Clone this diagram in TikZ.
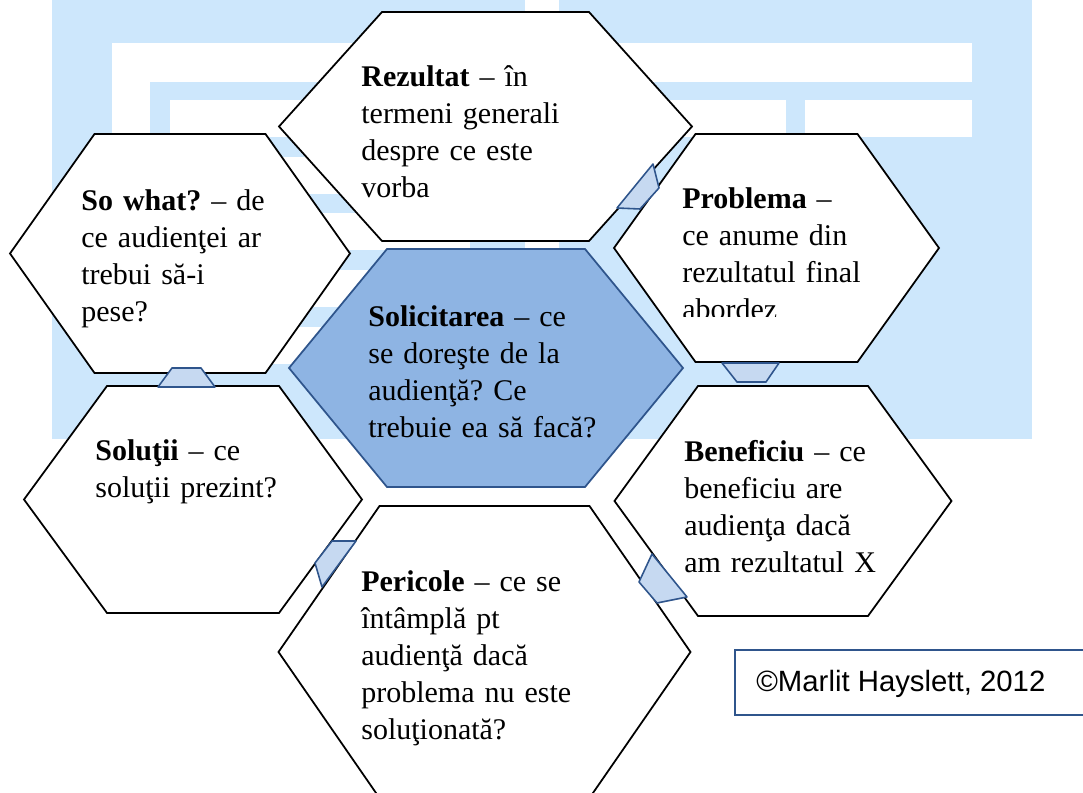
\documentclass[tikz,border=0pt]{standalone}
\usepackage{fontspec}
\setmainfont{Liberation Serif}
\newfontfamily\copyfont{Liberation Sans}
\frenchspacing
\definecolor{bgblue}{RGB}{205,231,252}
\definecolor{askfill}{RGB}{142,180,227}
\definecolor{darkedge}{RGB}{47,85,140}
\definecolor{jointfill}{RGB}{198,217,241}
\newcommand{\cellfont}{\fontsize{17.07pt}{21.05pt}\selectfont}
\tikzset{
    cell/.style={draw=black, fill=white, line width=1pt, line join=miter},
    askcell/.style={draw=darkedge, fill=askfill, line width=1pt, line join=miter},
    joint/.style={draw=darkedge, fill=jointfill, line width=0.9pt, line join=round},
    celltext/.style={anchor=base west, inner sep=0pt, text width=6cm, align=left, font=\cellfont},
    copybox/.style={draw=darkedge, line width=1pt}
}
\begin{document}
\begin{tikzpicture}[x=0.02cm, y=-0.02cm]
            \useasboundingbox (0,0) rectangle (1083,793);
            \clip (0,0) rectangle (1083,793);
            \fill[bgblue] (52,0) rectangle (1032,439);
            \fill[white] (525,0) rectangle (559,439);
            \fill[white] (112,43) rectangle (972,82);
            \fill[white] (112,82) rectangle (150,365);
            \fill[white] (170,100) rectangle (786,137);
            \fill[white] (805,100) rectangle (972,137);
            \foreach \y in {157,213,270,327}
            \fill[white] (170,\y) rectangle (470,\y+37);
            \foreach \cx/\cy/\hw/\tw/\hh in {485.5/126.5/206.5/103.5/114.5, 180/253.5/170/85.5/119.5,
                776.5/248/162.5/81/114, 193/499.5/169/86/113.5, 783/501/168.5/85/115, 484.5/652/206/105/146}
            \draw[cell] (\cx-\hw,\cy) -- (\cx-\tw,\cy-\hh) -- (\cx+\tw,\cy-\hh) -- (\cx+\hw,\cy)
                -- (\cx+\tw,\cy+\hh) -- (\cx-\tw,\cy+\hh) -- cycle;
            \draw[askcell] (289,368) -- (387,249) -- (585,249) -- (683,368) -- (585,487) -- (387,487) -- cycle;
            \draw[joint] (158,387) -- (172,368) -- (201,368) -- (215,387) -- cycle;
            \draw[joint] (722,363) -- (779,363) -- (766,382) -- (737,382) -- cycle;
            \draw[joint] (617,208) -- (640,209) -- (659,188) -- (653,164) -- cycle;
            \draw[joint] (315,563) -- (332,541) -- (356,541) -- (322,587) -- cycle;
            \draw[joint] (639,582) -- (652,554) -- (687,597) -- (657,603) -- cycle;
            \node[celltext] (rezultat) at (361,87) {\textbf{Rezultat} – în\\termeni generali\\despre ce este\\vorba};
            \node[celltext] (sowhat) at (81,211) {\textbf{So what?} – de\\ce audienţei ar\\trebui să-i\\pese?};
            \begin{scope}
                \clip (600,150) rectangle (900,317);
                \node[celltext] (problema) at (682,209) {\textbf{Problema} –\\ce anume din\\rezultatul final\\abordez};
            \end{scope}
            \node[celltext] (solicitare) at (368,327) {\textbf{Solicitarea} – ce\\se doreşte de la\\audienţă? Ce\\trebuie ea să facă?};
            \node[celltext] (solutii) at (95,461) {\textbf{Soluţii} – ce\\soluţii prezint?};
            \node[celltext] (beneficiu) at (684,462) {\textbf{Beneficiu} – ce\\beneficiu are\\audienţa dacă\\am rezultatul X};
            \node[celltext] (pericole) at (361,592) {\textbf{Pericole} – ce se\\întâmplă pt\\audienţă dacă\\problema nu este\\soluţionată?};
            \draw[copybox] (735,650) rectangle (1100,715);
            \node[anchor=base west, inner sep=0pt, font=\copyfont\fontsize{16.7pt}{20pt}\selectfont] (copyright) at (756,692) {©Marlit Hayslett, 2012};
\end{tikzpicture}
\end{document}
